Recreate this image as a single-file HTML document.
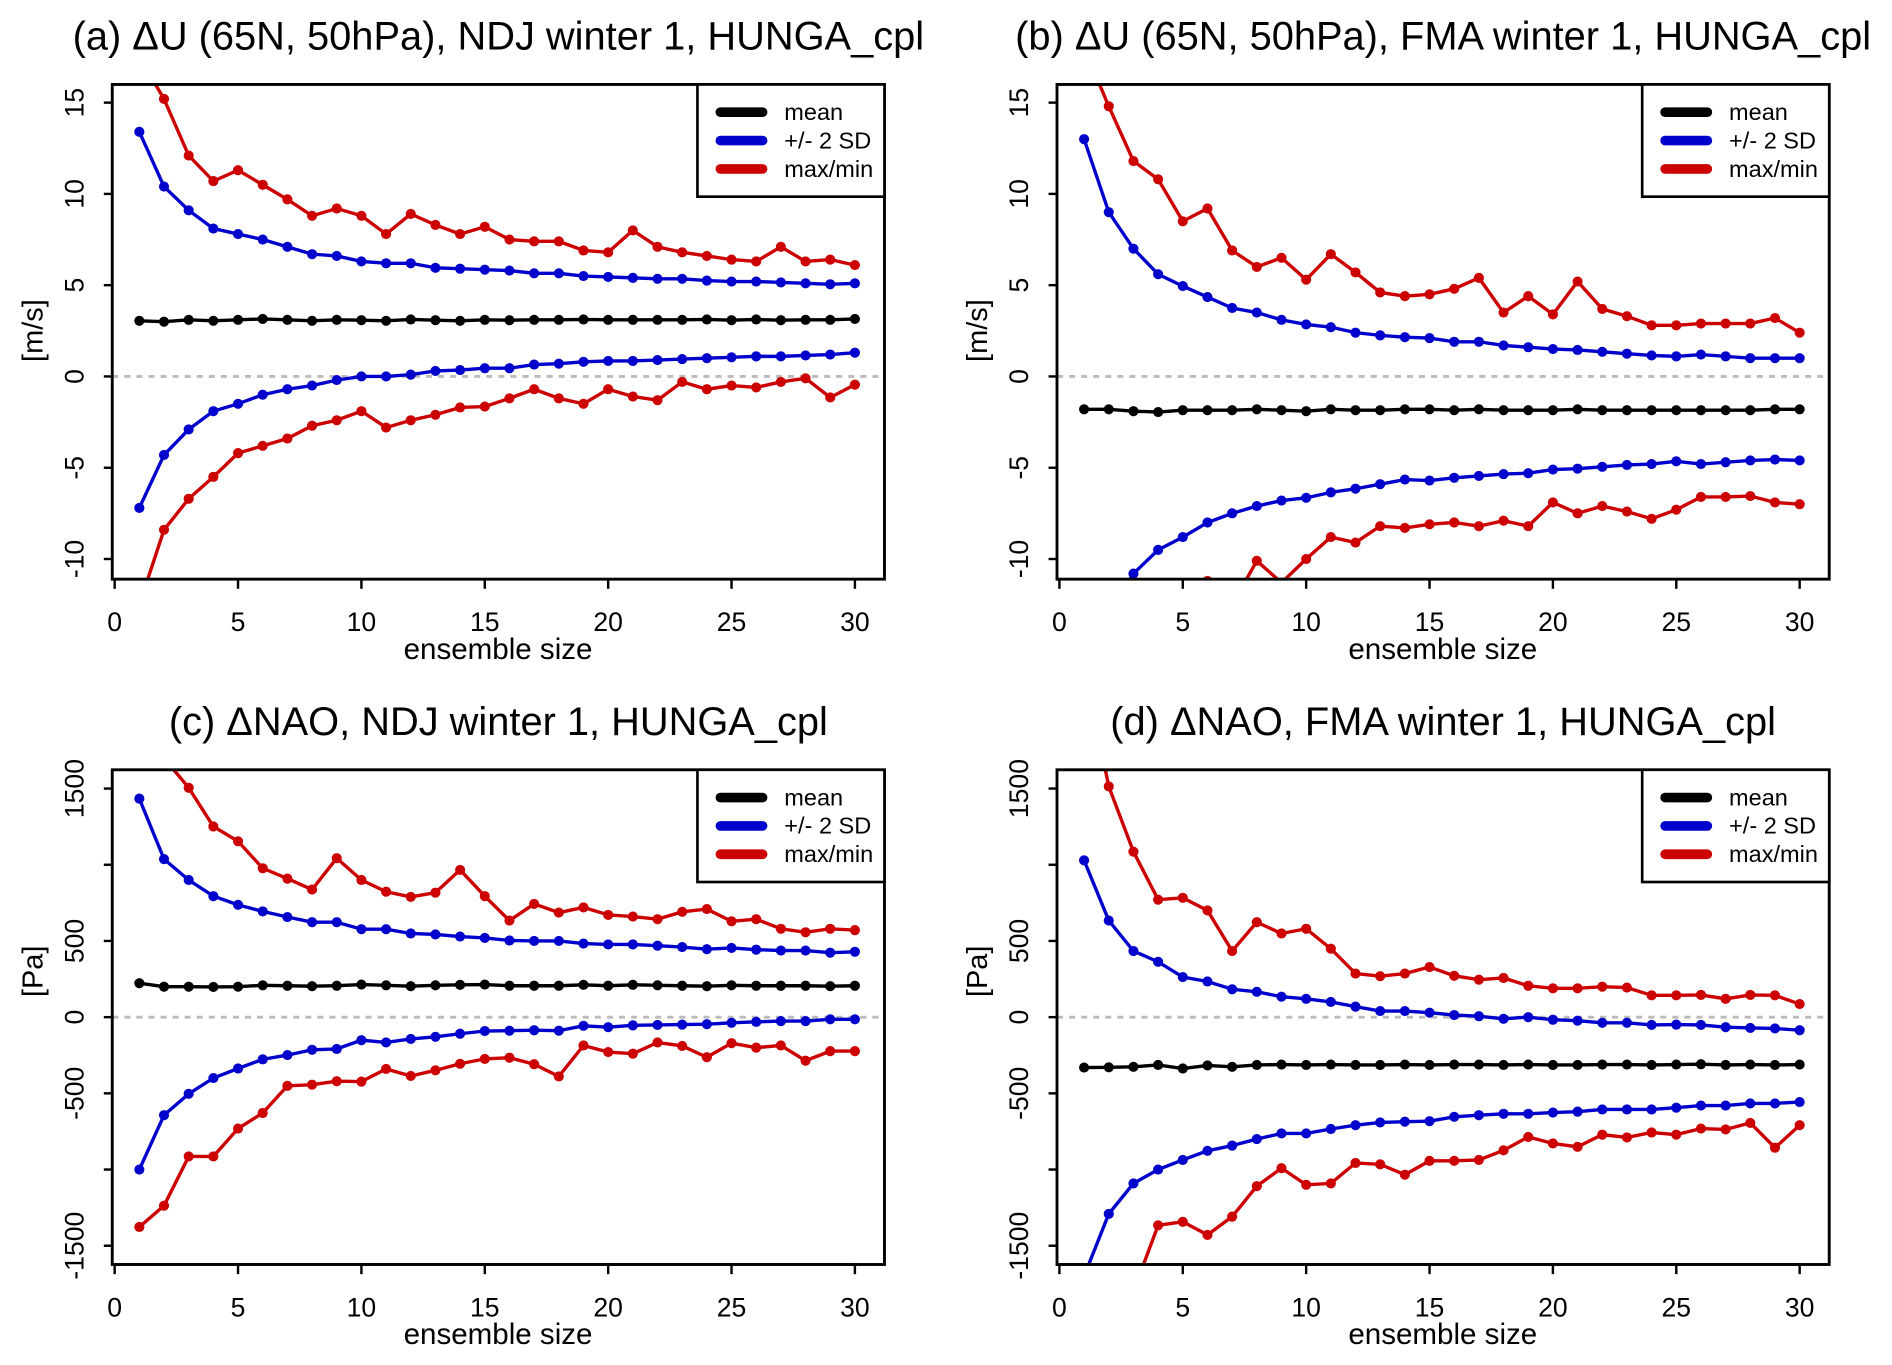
<!DOCTYPE html>
<html><head><meta charset="utf-8"><style>
html,body{margin:0;padding:0;background:#fff;overflow:hidden;width:1892px;height:1365px}
svg{display:block}
text{font-family:"Liberation Sans",sans-serif;fill:#000}
</style></head><body>
<svg id="fig" width="1892" height="1365" viewBox="0 0 1568 1131.3"></svg>
<script>
// ensemble sizes
const sizes = Array.from({length:30},(_,i)=>i+1);
// Panel a: dU NDJ
const aMean=[3.05,3.0,3.1,3.05,3.1,3.15,3.1,3.05,3.1,3.08,3.05,3.12,3.08,3.05,3.1,3.08,3.1,3.1,3.12,3.1,3.1,3.1,3.1,3.12,3.08,3.12,3.08,3.1,3.1,3.15];
const aSdHi=[13.4,10.4,9.1,8.1,7.8,7.5,7.1,6.7,6.6,6.3,6.2,6.2,5.95,5.9,5.85,5.8,5.65,5.65,5.5,5.45,5.4,5.35,5.35,5.25,5.2,5.2,5.15,5.1,5.05,5.1];
const aSdLo=[-7.2,-4.3,-2.9,-1.9,-1.5,-1.0,-0.7,-0.5,-0.2,0.0,0.0,0.1,0.3,0.35,0.45,0.45,0.65,0.7,0.8,0.85,0.85,0.9,0.95,1.0,1.05,1.1,1.1,1.15,1.2,1.3];
const aMax=[17.5,15.2,12.1,10.7,11.3,10.5,9.7,8.8,9.2,8.8,7.8,8.9,8.3,7.8,8.2,7.5,7.4,7.4,6.9,6.8,8.0,7.1,6.8,6.6,6.4,6.3,7.1,6.3,6.4,6.1];
const aMin=[-12.5,-8.4,-6.7,-5.5,-4.2,-3.8,-3.4,-2.7,-2.4,-1.9,-2.8,-2.4,-2.1,-1.7,-1.65,-1.2,-0.7,-1.2,-1.5,-0.7,-1.1,-1.3,-0.3,-0.7,-0.5,-0.6,-0.3,-0.1,-1.15,-0.45];
// Panel b: dU FMA
const bMean=[-1.8,-1.8,-1.9,-1.95,-1.85,-1.85,-1.85,-1.8,-1.85,-1.9,-1.8,-1.85,-1.85,-1.8,-1.8,-1.85,-1.8,-1.85,-1.85,-1.85,-1.8,-1.85,-1.85,-1.85,-1.85,-1.85,-1.85,-1.85,-1.8,-1.8];
const bSdHi=[13.0,9.0,7.0,5.6,4.95,4.35,3.75,3.5,3.1,2.85,2.7,2.4,2.25,2.15,2.1,1.9,1.9,1.7,1.6,1.5,1.45,1.35,1.25,1.15,1.1,1.2,1.1,1.0,1.0,1.0];
const bSdLo=[-15,-13,-10.8,-9.5,-8.8,-8.0,-7.5,-7.1,-6.8,-6.65,-6.35,-6.15,-5.9,-5.65,-5.7,-5.55,-5.45,-5.35,-5.3,-5.1,-5.05,-4.95,-4.85,-4.8,-4.65,-4.8,-4.7,-4.6,-4.55,-4.6];
const bMax=[18,14.8,11.8,10.8,8.5,9.2,6.9,6.0,6.5,5.3,6.7,5.7,4.6,4.4,4.5,4.8,5.4,3.5,4.4,3.4,5.2,3.7,3.3,2.8,2.8,2.9,2.9,2.9,3.2,2.4];
const bMin=[-20,-17,-15,-14,-13,-11.2,-12.5,-10.1,-11.3,-10.0,-8.8,-9.1,-8.2,-8.3,-8.1,-8.0,-8.2,-7.9,-8.2,-6.9,-7.5,-7.1,-7.4,-7.8,-7.3,-6.6,-6.6,-6.55,-6.9,-7.0];
// Panel c: dNAO NDJ
const cMean=[223,200,200,198,200,209,206,203,206,214,209,203,209,212,214,206,206,206,212,206,212,209,206,203,209,206,206,206,203,206];
const cSdHi=[1434,1037,900,794,737,694,657,623,623,577,577,549,543,529,520,503,500,500,483,477,477,469,460,446,454,443,437,437,423,429];
const cSdLo=[-1000,-643,-503,-400,-337,-277,-249,-214,-209,-151,-166,-143,-129,-109,-91,-89,-86,-89,-57,-66,-54,-51,-49,-46,-37,-31,-26,-26,-14,-14];
const cMax=[2100,1700,1505,1251,1154,977,909,837,1043,900,823,789,817,966,794,634,743,686,720,671,660,643,691,709,629,643,580,557,580,571];
const cMin=[-1377,-1237,-914,-914,-731,-629,-451,-443,-420,-423,-340,-386,-349,-306,-274,-266,-309,-389,-186,-229,-240,-166,-189,-263,-171,-200,-186,-286,-223,-223];
// Panel d: dNAO FMA
const dMean=[-331,-329,-326,-314,-337,-317,-326,-314,-311,-314,-311,-314,-314,-311,-314,-311,-311,-314,-311,-314,-314,-311,-311,-314,-311,-309,-314,-311,-314,-311];
const dSdHi=[1029,634,434,363,263,234,183,166,134,120,100,69,40,40,29,14,6,-11,0,-17,-23,-37,-37,-51,-49,-51,-66,-71,-74,-86];
const dSdLo=[-1700,-1291,-1091,-1000,-937,-877,-843,-800,-763,-763,-734,-709,-691,-686,-683,-654,-643,-634,-634,-626,-620,-606,-606,-606,-594,-580,-580,-566,-566,-557];
const dMax=[2300,1514,1086,771,783,700,434,623,549,580,449,286,269,286,329,271,246,257,206,189,189,200,194,143,143,146,120,146,143,86];
const dMin=[-2800,-2300,-1800,-1366,-1343,-1429,-1309,-1109,-991,-1100,-1091,-957,-966,-1034,-943,-943,-937,-874,-786,-829,-851,-771,-789,-757,-771,-731,-737,-694,-857,-709];
// tick labels
const xTicks=[0,5,10,15,20,25,30];
const uTicks=[-10,-5,0,5,10,15];
const naoTicks=[-1500,-1000,-500,0,500,1000,1500];
const naoTickLabels=["-1500","","-500","0","500","","1500"];
const legendLabels=["mean","+/- 2 SD","max/min"];
const titles=["(a) \u0394U (65N, 50hPa), NDJ winter 1, HUNGA_cpl","(b) \u0394U (65N, 50hPa), FMA winter 1, HUNGA_cpl","(c) \u0394NAO, NDJ winter 1, HUNGA_cpl","(d) \u0394NAO, FMA winter 1, HUNGA_cpl"];

const NS="http://www.w3.org/2000/svg";
const svg=document.getElementById('fig');
function mk(tag,attrs,parent){const e=document.createElementNS(NS,tag);for(const k in attrs)e.setAttribute(k,attrs[k]);(parent||svg).appendChild(e);return e;}

function panel(id,left,top,ymin,ymax,y0px,yPerUnit,ticks,tickLabels,unit,title,series){
  const W=640,H=410, right=left+W, bottom=top+H;
  const x0=left+2, xs=(613.5)/30;
  const X=v=>x0+v*xs;
  const Y=v=>y0px-v*yPerUnit;
  const g=mk('g',{});
  
  
  const t=mk('text',{x:left+W/2-清(0),y:top-29,'font-size':33,'text-anchor':'middle'},g);
  t.textContent=title;
  
  
  const cp=mk('clipPath',{id:'clip'+id},g);
  mk('rect',{x:left,y:top,width:W,height:H},cp);
  const z=mk('line',{x1:left,x2:right,y1:Y(0),y2:Y(0),stroke:'#bbb','stroke-width':2.4,'stroke-dasharray':'5,5'},g);
  
  
  const dg=mk('g',{'clip-path':'url(#clip'+id+')'},g);
  series.forEach(s=>{
    s.vals.forEach(arr=>{
      const pts=arr.map((v,i)=>X(sizes[i]).toFixed(2)+','+Y(v).toFixed(2)).join(' ');
      const pl=mk('polyline',{points:pts,fill:'none',stroke:s.color,'stroke-width':2.8},dg);
      
      
      arr.forEach((v,i)=>{
        const c=mk('circle',{cx:X(sizes[i]),cy:Y(v),r:4.2,fill:s.color},dg);
        
        
      });
    });
  });
  const bx=mk('rect',{x:left,y:top,width:W,height:H,fill:'none',stroke:'#000','stroke-width':2.4},g);
  
  
  const xa=mk('g',{},g);
  
  
  mk('line',{x1:X(0),x2:X(30),y1:bottom,y2:bottom,stroke:'#000','stroke-width':2},xa);
  xTicks.forEach(v=>{
    mk('line',{x1:X(v),x2:X(v),y1:bottom,y2:bottom+8,stroke:'#000','stroke-width':2},xa);
    const tl=mk('text',{x:X(v),y:bottom+43,'font-size':22,'text-anchor':'middle'},xa);
    tl.textContent=v;
    
    
  });
  const xt=mk('text',{x:X(15)+11,y:bottom+66,'font-size':24.5,'text-anchor':'middle'},g);
  xt.textContent='ensemble size';
  
  
  const ya=mk('g',{},g);
  
  
  ticks.forEach((v,i)=>{
    mk('line',{x1:left-7,x2:left,y1:Y(v),y2:Y(v),stroke:'#000','stroke-width':2},ya);
    const lab=tickLabels[i];
    if(lab!==''){
      const tl=mk('text',{x:0,y:0,'font-size':22,'text-anchor':'middle',transform:`translate(${left-24},${Y(v)}) rotate(-90)`},ya);
      tl.textContent=lab;
      
      
    }
  });
  const yt=mk('text',{x:0,y:0,'font-size':24,'text-anchor':'middle',transform:`translate(${left-58},${Y(0)-38}) rotate(-90)`},g);
  yt.textContent=unit;
  
  
  const lg=mk('g',{},g);
  
  
  mk('rect',{x:right-155,y:top,width:155,height:93,fill:'#fff',stroke:'#000','stroke-width':2.2},lg);
  ['#000','#0000cc','#cc0000'].forEach((c,i)=>{
    const yy=top+23+i*23.5;
    const e=mk('g',{},lg);
    
    
    mk('line',{x1:right-136,x2:right-101,y1:yy,y2:yy,stroke:c,'stroke-width':8,'stroke-linecap':'round'},e);
    const tx=mk('text',{x:right-83,y:yy+6.5,'font-size':19.5},e);
    tx.textContent=legendLabels[i];
  });
}
function 清(v){return v;}
const ser=(m,sh,sl,mx,mn)=>[{name:'max-min',color:'#cc0000',vals:[mx,mn]},{name:'two-sd',color:'#0000cc',vals:[sh,sl]},{name:'mean',color:'#000',vals:[m]}];
panel('a',93,70,-11,16,312,15.13,uTicks,uTicks.map(String),'[m/s]',titles[0],ser(aMean,aSdHi,aSdLo,aMax,aMin));
panel('b',876,70,-11,16,312,15.13,uTicks,uTicks.map(String),'[m/s]',titles[1],ser(bMean,bSdHi,bSdLo,bMax,bMin));
panel('c',93,638,-1623,1623,843,0.1263,naoTicks,naoTickLabels,'[Pa]',titles[2],ser(cMean,cSdHi,cSdLo,cMax,cMin));
panel('d',876,638,-1623,1623,843,0.1263,naoTicks,naoTickLabels,'[Pa]',titles[3],ser(dMean,dSdHi,dSdLo,dMax,dMin));
</script>
</body></html>
